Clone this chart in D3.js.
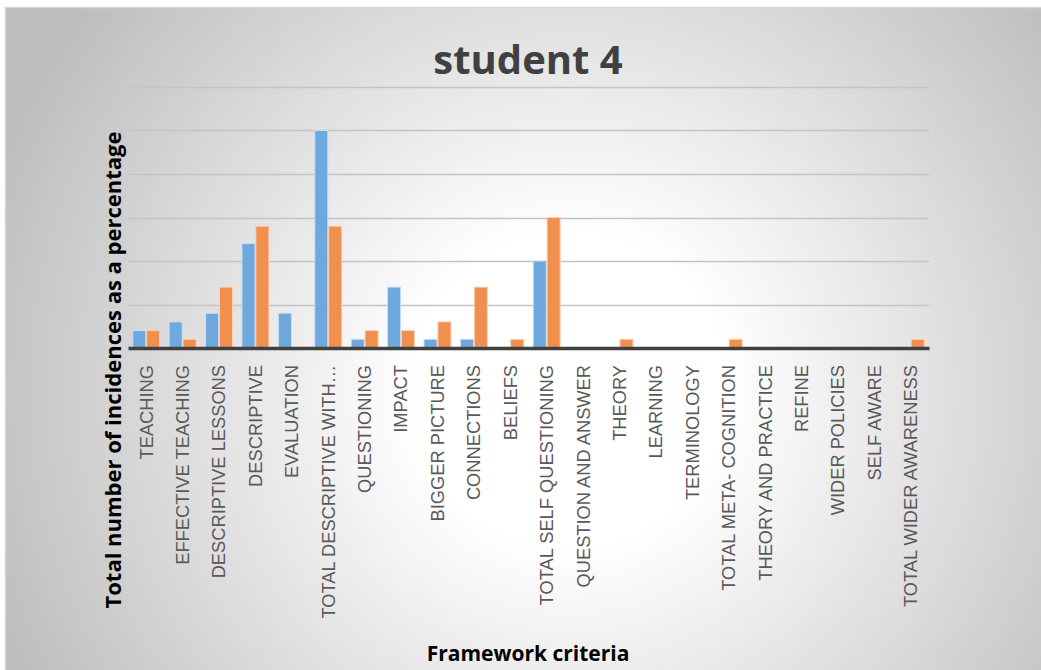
<!DOCTYPE html>
<html>
<head>
<meta charset="utf-8">
<script src="https://cdn.jsdelivr.net/npm/d3@7"></script>
<style>
  body { margin: 0; background: #fff; }
  svg { display: block; }
</style>
</head>
<body>
<div id="chart"></div>
<script>
// categories and the two series (percent of incidences)
var categories = [
  "TEACHING", "EFFECTIVE TEACHING", "DESCRIPTIVE LESSONS", "DESCRIPTIVE",
  "EVALUATION", "TOTAL DESCRIPTIVE WITH\u2026", "QUESTIONING", "IMPACT",
  "BIGGER PICTURE", "CONNECTIONS", "BELIEFS", "TOTAL SELF QUESTIONING",
  "QUESTION AND ANSWER", "THEORY", "LEARNING", "TERMINOLOGY",
  "TOTAL META- COGNITION", "THEORY AND PRACTICE", "REFINE", "WIDER POLICIES",
  "SELF AWARE", "TOTAL WIDER AWARENESS"
];
var seriesA = [2, 3, 4, 12, 4, 25, 1, 7, 1, 1, 0, 10, 0, 0, 0, 0, 0, 0, 0, 0, 0, 0];
var seriesB = [2, 1, 7, 14, 0, 14, 2, 2, 3, 7, 1, 15, 0, 1, 0, 0, 1, 0, 0, 0, 0, 1];
var seriesNames = ["A", "B"];
var yTicks = [0, 5, 10, 15, 20, 25, 30];

var W = 1041, H = 670;
var margin = { top: 87, right: 112, bottom: 322, left: 128 },
    width = W - margin.left - margin.right,
    height = H - margin.top - margin.bottom;

var svg = d3.select("#chart").append("svg")
    .attr("width", W)
    .attr("height", H);

// background gradient like the office chart area
var defs = svg.append("defs");
var grad = defs.append("radialGradient")
    .attr("id", "bg")
    .attr("gradientUnits", "userSpaceOnUse")
    .attr("cx", 570).attr("cy", 390).attr("r", 620);
grad.append("stop").attr("offset", "0%").attr("stop-color", "#ffffff");
grad.append("stop").attr("offset", "25%").attr("stop-color", "#ffffff");
grad.append("stop").attr("offset", "100%").attr("stop-color", "#bdbdbd");

svg.append("rect")
    .attr("x", 5).attr("y", 7)
    .attr("width", W - 5).attr("height", H - 7)
    .attr("fill", "url(#bg)");
svg.append("path")
    .attr("d", "M5.5," + H + "V7.5H" + W)
    .attr("fill", "none")
    .attr("stroke", "#d6d6d6")
    .attr("stroke-width", 1.5);

var g = svg.append("g")
    .attr("transform", "translate(" + margin.left + "," + margin.top + ")");

var x = d3.scaleBand()
    .domain(categories)
    .range([0, width])
    .paddingInner(0.26)
    .paddingOuter(0.13);

var xSub = d3.scaleBand()
    .domain(seriesNames)
    .range([0, x.bandwidth()])
    .paddingInner(0.06);

var y = d3.scaleLinear()
    .domain([0, 30])
    .range([height, 0]);

// gridlines
g.append("g")
    .selectAll("line")
    .data(yTicks.slice(1))
    .enter()
    .append("line")
    .attr("x1", 0).attr("x2", width)
    .attr("y1", function (d) { return Math.round(y(d)) + 0.5; })
    .attr("y2", function (d) { return Math.round(y(d)) + 0.5; })
    .attr("stroke", "#c4c4c4")
    .attr("stroke-width", 1.5);

// bars
var colors = { A: "#6fa8dc", B: "#f08f4e" };
var strokes = { A: "#c9def2", B: "#f9d2b6" };
var rows = categories.map(function (c, i) {
    return { cat: c, vals: [{ k: "A", v: seriesA[i] }, { k: "B", v: seriesB[i] }] };
});

g.append("g")
    .selectAll("g")
    .data(rows)
    .enter()
    .append("g")
    .attr("transform", function (d) { return "translate(" + x(d.cat) + ",0)"; })
    .selectAll("rect")
    .data(function (d) { return d.vals.filter(function (e) { return e.v > 0; }); })
    .enter()
    .append("rect")
    .attr("x", function (d) { return xSub(d.k); })
    .attr("y", function (d) { return y(d.v); })
    .attr("width", xSub.bandwidth())
    .attr("height", function (d) { return y(0) - y(d.v); })
    .attr("fill", function (d) { return colors[d.k]; })
    .attr("stroke", function (d) { return strokes[d.k]; })
    .attr("stroke-width", 1);

// x axis baseline and labels
var xAxis = g.append("g")
    .attr("transform", "translate(0," + height + ")")
    .call(d3.axisBottom(x).tickSize(0).tickPadding(0));
xAxis.select(".domain")
    .attr("stroke", "#404040")
    .attr("stroke-width", 3.5);
xAxis.selectAll("text")
    .attr("transform", "rotate(-90)")
    .attr("x", -17)
    .attr("y", 0)
    .attr("dy", "0.35em")
    .style("text-anchor", "end")
    .style("font-family", "'Liberation Sans', Arial, sans-serif")
    .style("font-size", "18.3px")
    .attr("fill", "#595959");

// title
svg.append("text")
    .attr("x", 528)
    .attr("y", 74)
    .attr("text-anchor", "middle")
    .style("font-family", "'Open Sans', sans-serif")
    .style("font-weight", "bold")
    .style("font-size", "40px")
    .attr("fill", "#404040")
    .text("student 4");

// axis titles
svg.append("text")
    .attr("transform", "translate(121,370) rotate(-90)")
    .attr("text-anchor", "middle")
    .style("font-family", "'Open Sans', sans-serif")
    .style("font-weight", "bold")
    .style("font-size", "22px")
    .attr("fill", "#000")
    .text("Total number of incidences as a percentage");

svg.append("text")
    .attr("x", 528)
    .attr("y", 661)
    .attr("text-anchor", "middle")
    .style("font-family", "'Open Sans', sans-serif")
    .style("font-weight", "bold")
    .style("font-size", "21px")
    .attr("fill", "#000")
    .text("Framework criteria");
</script>
</body>
</html>
